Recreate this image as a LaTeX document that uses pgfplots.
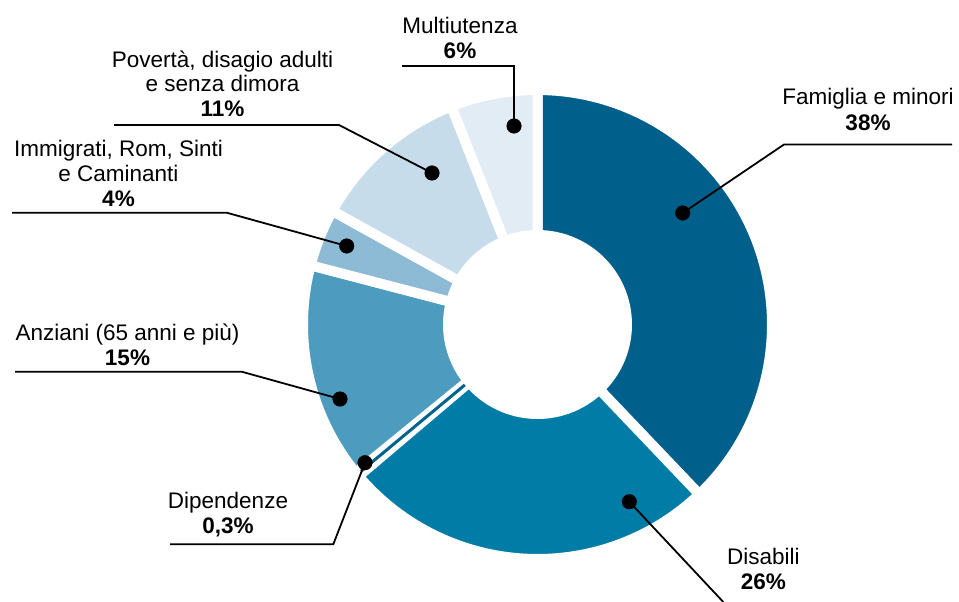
\documentclass[border=0pt]{standalone}
\usepackage{pgfplots}
\pgfplotsset{compat=1.18}
\usepackage{fontspec}
\setmainfont{Liberation Sans}
\definecolor{cFam}{HTML}{00608B}
\definecolor{cDis}{HTML}{007CA6}
\definecolor{cDip}{HTML}{00638E}
\definecolor{cAnz}{HTML}{4D9CBF}
\definecolor{cImm}{HTML}{8DBAD5}
\definecolor{cPov}{HTML}{C6DCEA}
\definecolor{cMul}{HTML}{E2ECF5}
\def\cx{537.5}\def\cy{324.5}\def\Ro{234.5}\def\Ri{94.5}\def\Rv{229.5}
% total of the shares = 100.3 -> degrees per percent
\def\K{3.58923}
\newcommand{\wedgeplot}[3]{%
  \addplot[fill=#3, draw=white, line width=10pt, line join=round,
    domain={#1*\K}:{#2*\K}, samples=90, variable=\t]
    ({\cx+\Ro*sin(\t)},{\cy-\Ro*cos(\t)}) -- (axis cs:\cx,\cy) -- cycle;}
\tikzset{lab/.style={anchor=base, inner sep=0pt, font=\fontsize{22.5}{27}\selectfont}}
\begin{document}
\begin{tikzpicture}
\begin{axis}[x=1pt, y=1pt, xmin=0, xmax=959, ymin=0, ymax=602,
  y dir=reverse, hide axis, clip=false]
% shares (%): Famiglia 38, Disabili 26, Dipendenze 0.3, Anziani 15,
% Immigrati 4, Poverta 11, Multiutenza 6  (cumulative bounds below)
\wedgeplot{0}{38}{cFam}
\wedgeplot{38}{64}{cDis}
\wedgeplot{64.3}{79.3}{cAnz}
\wedgeplot{79.3}{83.3}{cImm}
\wedgeplot{83.3}{94.3}{cPov}
\wedgeplot{94.3}{100.3}{cMul}
% hole
\addplot[fill=white, draw=none, domain=0:360, samples=120, variable=\t]
  ({\cx+\Ri*sin(\t)},{\cy-\Ri*cos(\t)}) -- cycle;
% Dipendenze 0.3% (64 -> 64.3), drawn as thin slice
\addplot[cDip, line width=3pt, domain=\Ri:\Rv, samples=2, variable=\s]
  ({\cx+\s*sin(64.15*\K)},{\cy-\s*cos(64.15*\K)});
% leader lines
\addplot[black, line width=1.8pt] coordinates {(402,66) (514,66) (514,126)};
\addplot[black, line width=1.8pt] coordinates {(114,125) (339,125) (432,173)};
\addplot[black, line width=1.8pt] coordinates {(12,212.7) (226.7,212.7) (346.7,246)};
\addplot[black, line width=1.8pt] coordinates {(15,371.7) (241.7,371.7) (340,399)};
\addplot[black, line width=1.8pt] coordinates {(170,544.3) (333.3,544.3) (365,462.7)};
\addplot[black, line width=1.8pt] coordinates {(629.3,501.7) (723.3,602)};
\addplot[black, line width=1.8pt] coordinates {(952,144.5) (784,144.5) (682.7,213)};
\addplot[only marks, mark=*, mark size=7.3pt, black] coordinates {
  (514,126) (432,173) (346.7,246) (340,399) (365,462.7) (629.3,501.7) (682.7,213)};
% labels
\node[lab] at (axis cs:460,33.5) {Multiutenza};
\node[lab] at (axis cs:460,58.5) {\textbf{6\%}};
\node[lab] at (axis cs:222.5,67.3) {Povertà, disagio adulti};
\node[lab] at (axis cs:222.5,91.7) {e senza dimora};
\node[lab] at (axis cs:222.5,116) {\textbf{11\%}};
\node[lab] at (axis cs:118.5,156) {Immigrati, Rom, Sinti};
\node[lab] at (axis cs:118.5,181) {e Caminanti};
\node[lab] at (axis cs:118.5,206) {\textbf{4\%}};
\node[lab] at (axis cs:127.5,340) {Anziani (65 anni e più)};
\node[lab] at (axis cs:127.5,365) {\textbf{15\%}};
\node[lab] at (axis cs:228,508.3) {Dipendenze};
\node[lab] at (axis cs:228,533.3) {\textbf{0,3\%}};
\node[lab] at (axis cs:763.3,564.3) {Disabili};
\node[lab] at (axis cs:763.3,589) {\textbf{26\%}};
\node[lab] at (axis cs:868,105) {Famiglia e minori};
\node[lab] at (axis cs:868,130) {\textbf{38\%}};
\coordinate (BL) at (rel axis cs:0,0);
\coordinate (TR) at (rel axis cs:1,1);
\end{axis}
\pgfresetboundingbox
\path (BL) rectangle (TR);
\end{tikzpicture}
\end{document}
